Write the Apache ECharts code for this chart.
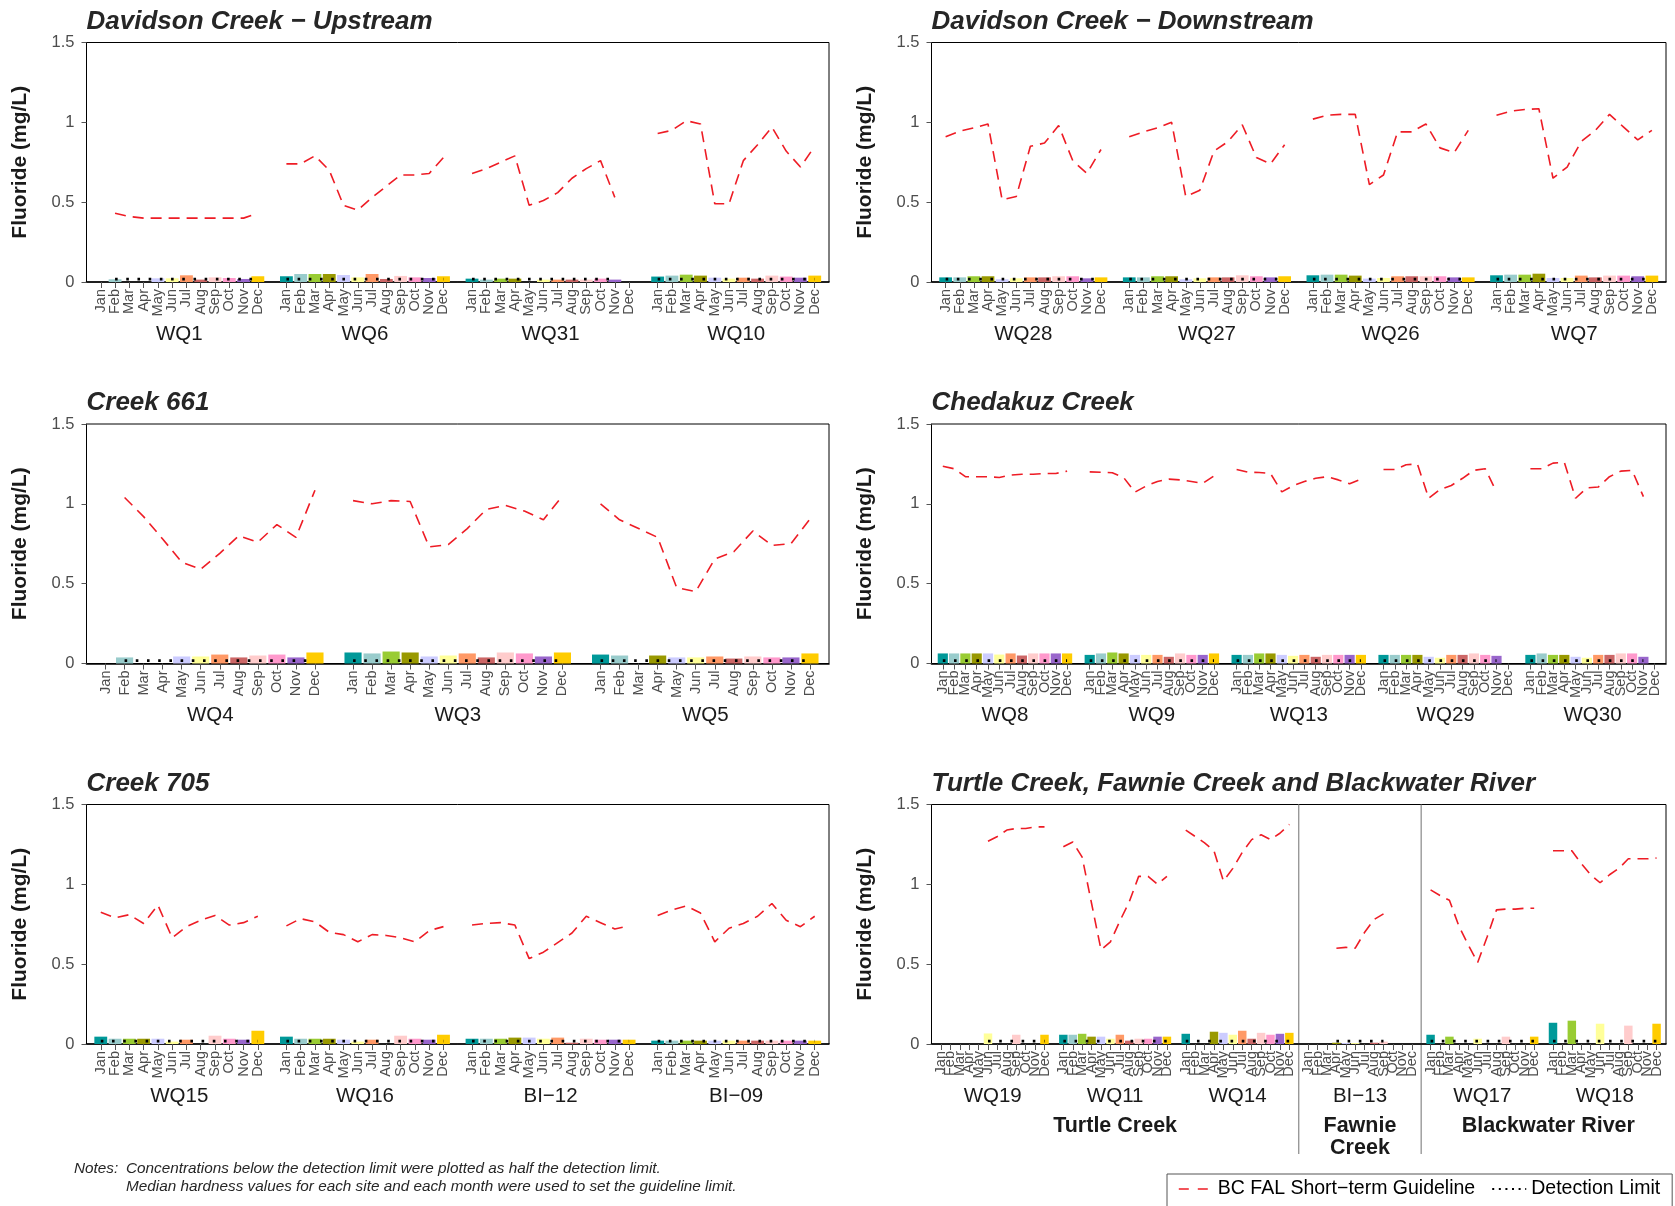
<!DOCTYPE html>
<html><head><meta charset="utf-8">
<script src="https://cdn.jsdelivr.net/npm/echarts@6/dist/echarts.min.js"></script>
<style>html,body{margin:0;padding:0;background:#fff}#c{width:1675px;height:1206px}</style>
</head><body><div id="c"></div>
<script>
// ---------------- data ----------------
const MONTHS = ['Jan','Feb','Mar','Apr','May','Jun','Jul','Aug','Sep','Oct','Nov','Dec'];
const DETECTION_LIMIT = 0.018;

// Davidson Creek - Upstream
const fl_WQ1  = [null, 0.017, null, null, 0.023, 0.023, 0.042, 0.015, 0.029, 0.025, 0.019, 0.036];
const gl_WQ1  = [null, 0.43, 0.41, 0.40, 0.40, 0.40, 0.40, 0.40, 0.40, 0.40, 0.40, 0.43];
const fl_WQ6  = [0.036, 0.05, 0.05, 0.05, 0.044, 0.029, 0.05, 0.019, 0.038, 0.029, 0.025, 0.036];
const gl_WQ6  = [0.74, 0.74, 0.79, 0.70, 0.48, 0.45, 0.53, 0.60, 0.67, 0.67, 0.68, 0.78];
const fl_WQ31 = [0.021, 0.015, 0.021, 0.021, null, 0.015, 0.015, 0.015, 0.015, 0.021, 0.015, null];
const gl_WQ31 = [0.68, 0.71, 0.75, 0.79, 0.48, 0.51, 0.56, 0.65, 0.71, 0.76, 0.53, null];
const fl_WQ10 = [0.034, 0.04, 0.046, 0.04, 0.027, 0.021, 0.027, 0.021, 0.04, 0.034, 0.027, 0.04];
const gl_WQ10 = [0.93, 0.95, 1.01, 0.99, 0.49, 0.49, 0.76, 0.86, 0.97, 0.82, 0.72, 0.85];
// Davidson Creek - Downstream
const fl_WQ28 = [0.029, 0.029, 0.036, 0.036, 0.017, 0.023, 0.029, 0.029, 0.036, 0.036, 0.023, 0.029];
const gl_WQ28 = [0.91, 0.945, 0.965, 0.99, 0.515, 0.535, 0.85, 0.87, 0.98, 0.76, 0.68, 0.83];
const fl_WQ27 = [0.029, 0.029, 0.036, 0.036, 0.017, 0.023, 0.029, 0.029, 0.042, 0.036, 0.029, 0.036];
const gl_WQ27 = [0.91, 0.94, 0.965, 1.0, 0.535, 0.575, 0.82, 0.88, 0.985, 0.78, 0.74, 0.86];
const fl_WQ26 = [0.042, 0.046, 0.046, 0.04, 0.021, 0.025, 0.036, 0.036, 0.036, 0.036, 0.029, 0.029];
const gl_WQ26 = [1.02, 1.045, 1.05, 1.05, 0.61, 0.67, 0.94, 0.94, 0.99, 0.84, 0.81, 0.95];
const fl_WQ7  = [0.042, 0.046, 0.046, 0.052, 0.025, 0.025, 0.04, 0.029, 0.04, 0.04, 0.036, 0.04];
const gl_WQ7  = [1.045, 1.07, 1.08, 1.085, 0.65, 0.72, 0.88, 0.95, 1.05, 0.97, 0.89, 0.95];
// Creek 661
const fl_WQ4 = [null, 0.038, null, null, 0.044, 0.044, 0.056, 0.038, 0.05, 0.056, 0.038, 0.069];
const gl_WQ4 = [null, 1.04, 0.92, 0.78, 0.635, 0.59, 0.69, 0.80, 0.76, 0.87, 0.79, 1.085];
const fl_WQ3 = [0.069, 0.063, 0.075, 0.069, 0.044, 0.05, 0.063, 0.038, 0.069, 0.063, 0.044, 0.069];
const gl_WQ3 = [1.02, 1.0, 1.02, 1.015, 0.73, 0.745, 0.845, 0.965, 0.99, 0.955, 0.90, 1.05];
const fl_WQ5 = [0.056, 0.05, null, 0.05, 0.038, 0.038, 0.044, 0.031, 0.044, 0.038, 0.038, 0.063];
const gl_WQ5 = [1.0, 0.90, 0.845, 0.79, 0.475, 0.45, 0.655, 0.70, 0.83, 0.74, 0.75, 0.905];
// Chedakuz Creek
const fl_WQ8  = [0.063, 0.063, 0.063, 0.063, 0.063, 0.056, 0.063, 0.05, 0.063, 0.063, 0.063, 0.063];
const gl_WQ8  = [1.235, 1.22, 1.17, 1.17, 1.17, 1.165, 1.18, 1.185, 1.185, 1.19, 1.19, 1.205];
const fl_WQ9  = [0.054, 0.063, 0.069, 0.063, 0.054, 0.054, 0.054, 0.042, 0.063, 0.054, 0.054, 0.063];
const gl_WQ9  = [1.20, 1.198, 1.195, 1.165, 1.073, 1.112, 1.14, 1.155, 1.15, 1.14, 1.128, 1.175];
const fl_WQ13 = [0.054, 0.054, 0.063, 0.063, 0.054, 0.048, 0.054, 0.042, 0.054, 0.054, 0.054, 0.054];
const gl_WQ13 = [1.215, 1.198, 1.196, 1.19, 1.075, 1.114, 1.14, 1.16, 1.17, 1.15, 1.126, 1.155];
const fl_WQ29 = [0.054, 0.054, 0.054, 0.054, 0.042, 0.036, 0.054, 0.054, 0.063, 0.054, 0.048, null];
const gl_WQ29 = [1.215, 1.215, 1.245, 1.25, 1.035, 1.09, 1.115, 1.16, 1.21, 1.22, 1.075, null];
const fl_WQ30 = [0.054, 0.063, 0.054, 0.054, 0.042, 0.036, 0.054, 0.054, 0.063, 0.063, 0.042, null];
const gl_WQ30 = [1.22, 1.22, 1.255, 1.26, 1.035, 1.10, 1.105, 1.17, 1.205, 1.21, 1.045, null];
// Creek 705
const fl_WQ15 = [0.046, 0.033, 0.033, 0.033, 0.033, 0.015, 0.027, null, 0.052, 0.033, 0.027, 0.083];
const gl_WQ15 = [0.825, 0.79, 0.81, 0.755, 0.87, 0.665, 0.735, 0.775, 0.805, 0.745, 0.76, 0.80];
const fl_WQ16 = [0.046, 0.033, 0.033, 0.033, 0.027, 0.015, 0.027, null, 0.052, 0.033, 0.027, 0.058];
const gl_WQ16 = [0.74, 0.785, 0.765, 0.70, 0.685, 0.64, 0.685, 0.68, 0.665, 0.64, 0.71, 0.735];
const fl_BI12 = [0.033, 0.033, 0.033, 0.04, 0.04, 0.033, 0.04, 0.008, 0.033, 0.027, 0.027, 0.027];
const gl_BI12 = [0.745, 0.755, 0.76, 0.745, 0.535, 0.575, 0.635, 0.695, 0.80, 0.76, 0.72, 0.74];
const fl_BI09 = [0.021, 0.021, 0.021, 0.021, 0.021, 0.021, 0.021, 0.021, 0.021, 0.021, 0.021, 0.021];
const gl_BI09 = [0.805, 0.84, 0.865, 0.82, 0.64, 0.725, 0.755, 0.80, 0.88, 0.775, 0.735, 0.80];
// Turtle Creek, Fawnie Creek and Blackwater River
const fl_WQ19 = [null, null, null, null, null, 0.066, null, null, 0.058, null, null, 0.058];
const gl_WQ19 = [null, null, null, null, null, 1.27, 1.30, 1.34, 1.35, 1.35, 1.36, 1.36];
const fl_WQ11 = [0.058, 0.058, 0.064, 0.046, 0.046, 0.033, 0.058, 0.021, 0.033, 0.033, 0.046, 0.046];
const gl_WQ11 = [1.235, 1.265, 1.17, 0.88, 0.59, 0.64, 0.77, 0.89, 1.05, 1.05, 1.0, 1.05];
const fl_WQ14 = [0.064, null, null, 0.077, 0.07, 0.058, 0.083, 0.033, 0.07, 0.058, 0.064, 0.07];
const gl_WQ14 = [1.34, 1.30, 1.26, 1.21, 1.02, 1.10, 1.20, 1.28, 1.31, 1.28, 1.32, 1.375];
const fl_BI13 = [null, null, null, 0.008, 0.006, 0.006, null, 0.008, 0.015, null, null, null];
const gl_BI13 = [null, null, null, 0.60, 0.605, 0.60, 0.70, 0.78, 0.815, null, null, null];
const fl_WQ17 = [0.058, null, 0.046, null, null, 0.033, null, null, 0.046, null, null, 0.046];
const gl_WQ17 = [0.965, 0.93, 0.90, 0.74, 0.62, 0.51, 0.67, 0.84, 0.845, 0.845, 0.85, 0.85];
const fl_WQ18 = [0.133, null, 0.146, null, null, 0.127, null, null, 0.115, null, null, 0.127];
const gl_WQ18 = [1.21, 1.21, 1.21, 1.13, 1.06, 1.01, 1.06, 1.10, 1.16, 1.16, 1.16, 1.165];

const PANEL_TITLES = ['Davidson Creek − Upstream', 'Davidson Creek − Downstream', 'Creek 661',
                      'Chedakuz Creek', 'Creek 705', 'Turtle Creek, Fawnie Creek and Blackwater River'];
const PANEL_SITES = [['WQ1','WQ6','WQ31','WQ10'], ['WQ28','WQ27','WQ26','WQ7'], ['WQ4','WQ3','WQ5'],
                     ['WQ8','WQ9','WQ13','WQ29','WQ30'], ['WQ15','WQ16','BI−12','BI−09'],
                     ['WQ19','WQ11','WQ14','BI−13','WQ17','WQ18']];
const SITE_FLUORIDE = {WQ1:fl_WQ1, WQ6:fl_WQ6, WQ31:fl_WQ31, WQ10:fl_WQ10, WQ28:fl_WQ28, WQ27:fl_WQ27,
  WQ26:fl_WQ26, WQ7:fl_WQ7, WQ4:fl_WQ4, WQ3:fl_WQ3, WQ5:fl_WQ5, WQ8:fl_WQ8, WQ9:fl_WQ9, WQ13:fl_WQ13,
  WQ29:fl_WQ29, WQ30:fl_WQ30, WQ15:fl_WQ15, WQ16:fl_WQ16, 'BI−12':fl_BI12, 'BI−09':fl_BI09,
  WQ19:fl_WQ19, WQ11:fl_WQ11, WQ14:fl_WQ14, 'BI−13':fl_BI13, WQ17:fl_WQ17, WQ18:fl_WQ18};
const SITE_GUIDELINE = {WQ1:gl_WQ1, WQ6:gl_WQ6, WQ31:gl_WQ31, WQ10:gl_WQ10, WQ28:gl_WQ28, WQ27:gl_WQ27,
  WQ26:gl_WQ26, WQ7:gl_WQ7, WQ4:gl_WQ4, WQ3:gl_WQ3, WQ5:gl_WQ5, WQ8:gl_WQ8, WQ9:gl_WQ9, WQ13:gl_WQ13,
  WQ29:gl_WQ29, WQ30:gl_WQ30, WQ15:gl_WQ15, WQ16:gl_WQ16, 'BI−12':gl_BI12, 'BI−09':gl_BI09,
  WQ19:gl_WQ19, WQ11:gl_WQ11, WQ14:gl_WQ14, 'BI−13':gl_BI13, WQ17:gl_WQ17, WQ18:gl_WQ18};
// group label: [text, first category, last category] along the last panel's axis
const GROUPS_LAST_PANEL = [['Turtle Creek', 'WQ19|Jan', 'WQ14|Dec'], ['Fawnie\nCreek', 'BI−13|Jan', 'BI−13|Dec'],
                           ['Blackwater River', 'WQ17|Jan', 'pad-end']];
const GUIDELINE_NAME = 'BC FAL Short−term Guideline';
const DL_NAME = 'Detection Limit';
const NOTES = ['Concentrations below the detection limit were plotted as half the detection limit.',
               'Median hardness values for each site and each month were used to set the guideline limit.'];

// ---------------- styles / layout ----------------
const MONTH_COLORS = ['#009999','#99CCCC','#99CC33','#999900','#CCCCFF','#FFFF99',
                      '#FF9966','#CC6666','#FFCCCC','#FF99CC','#9966CC','#FFCC00'];
const FONT = 'Liberation Sans, Arial, Helvetica, sans-serif';
const NOTE_FONT = 'italic 15.3px Liberation Sans Narrow, Arial Narrow, Liberation Sans, sans-serif';
const COL_LEFT = [86.5, 931.5], COL_WIDTH = [742.5, 734.5];
const ROW_TOP = [42.5, 424, 804.5], ROW_HEIGHT = 239.5;

function dlSpan(vals) {
  let first = -1, last = -1;
  vals.forEach((v, i) => { if (v != null) { if (first < 0) first = i; last = i; } });
  return vals.map((v, i) => (first >= 0 && i >= first && i <= last) ? DETECTION_LIMIT : null);
}

const grids = [], xAxes = [], yAxes = [], series = [], titles = [], panelCats = [];
PANEL_SITES.forEach((sites, p) => {
  const col = p % 2, row = Math.floor(p / 2);
  const cats = ['pad-start'], bars = [null], gl = [null], dl = [null], mon = [-1];
  sites.forEach((s, k) => {
    if (k > 0) { cats.push('gap-' + k); bars.push(null); gl.push(null); dl.push(null); mon.push(-1); }
    const dls = dlSpan(SITE_FLUORIDE[s]);
    MONTHS.forEach((m, i) => {
      cats.push(s + '|' + m); bars.push(SITE_FLUORIDE[s][i]); gl.push(SITE_GUIDELINE[s][i]);
      dl.push(dls[i]); mon.push(i);
    });
  });
  cats.push('pad-end'); bars.push(null); gl.push(null); dl.push(null); mon.push(-1);
  panelCats.push(cats);

  grids.push({left: COL_LEFT[col], top: ROW_TOP[row], width: COL_WIDTH[col], height: ROW_HEIGHT,
    show: true, borderColor: '#000', borderWidth: 1, backgroundColor: 'transparent'});
  titles.push({text: PANEL_TITLES[p], left: COL_LEFT[col], top: ROW_TOP[row] - 34, padding: 0,
    textStyle: {fontFamily: FONT, fontSize: 26, fontWeight: 'bold', fontStyle: 'italic', color: '#262626'}});
  xAxes.push({type: 'category', gridIndex: p, data: cats, boundaryGap: false,
    axisLine: {show: true, onZero: false, lineStyle: {color: '#000', width: 1.6}},
    axisTick: {show: true, length: 6, interval: (i, v) => v.indexOf('|') >= 0, lineStyle: {color: '#555', width: 1}},
    axisLabel: {interval: 0, rotate: 90, margin: 7, fontSize: 14.5, color: '#4d4d4d', fontFamily: FONT,
      formatter: v => (v.indexOf('|') >= 0 ? v.split('|')[1] : '')},
    splitLine: {show: false}});
  yAxes.push({type: 'value', gridIndex: p, min: 0, max: 1.5, interval: 0.5,
    axisLine: {show: true, lineStyle: {color: '#000', width: 1}},
    axisTick: {show: true, length: 5, lineStyle: {color: '#555'}},
    axisLabel: {fontSize: 16.5, color: '#4d4d4d', margin: 12, fontFamily: FONT},
    splitLine: {show: false},
    name: 'Fluoride (mg/L)', nameLocation: 'middle', nameGap: 56,
    nameTextStyle: {fontFamily: FONT, fontSize: 21, fontWeight: 'bold', color: '#1a1a1a'}});
  series.push({type: 'bar', name: 'Fluoride', xAxisIndex: p, yAxisIndex: p, data: bars,
    barCategoryGap: '10%', silent: true, z: 2,
    itemStyle: {color: prm => MONTH_COLORS[mon[prm.dataIndex]]}});
  series.push({type: 'line', name: DL_NAME, xAxisIndex: p, yAxisIndex: p, data: dl,
    symbol: 'none', connectNulls: false, silent: true, z: 3,
    itemStyle: {color: '#000'},
    lineStyle: {color: '#000', width: 2.6, type: [2.6, 8.6]}});
  series.push({type: 'line', name: GUIDELINE_NAME, xAxisIndex: p, yAxisIndex: p, data: gl,
    symbol: 'none', connectNulls: false, silent: true, z: 4,
    itemStyle: {color: '#EE1C25'},
    lineStyle: {color: '#EE1C25', width: 1.6, type: [11, 7]}});
});

const chart = echarts.init(document.getElementById('c'), null, {renderer: 'canvas'});
chart.setOption({
  animation: false,
  backgroundColor: '#fff',
  title: titles,
  grid: grids, xAxis: xAxes, yAxis: yAxes, series: series,
  legend: {data: [{name: GUIDELINE_NAME, lineStyle: {type: [10, 9], width: 1.6}},
                  {name: DL_NAME, lineStyle: {type: [2, 4.6], width: 2}}],
    left: 1167, top: 1174, itemWidth: 34, itemHeight: 14,
    itemGap: 16, padding: [5, 12, 16, 11], borderColor: '#555', borderWidth: 1, borderRadius: 0,
    itemStyle: {opacity: 0},
    selectedMode: false, textStyle: {fontFamily: FONT, fontSize: 19.5, color: '#000'}}
});

// ---------- labels placed through the axes' own scales ----------
const gfx = [];
function px(p, cat) { return chart.convertToPixel({xAxisIndex: p}, cat); }
PANEL_SITES.forEach((sites, p) => {
  const row = Math.floor(p / 2);
  const yBase = ROW_TOP[row] + ROW_HEIGHT;
  sites.forEach(s => {
    const x = (px(p, s + '|Jan') + px(p, s + '|Dec')) / 2;
    gfx.push({type: 'text', x: x, y: yBase + 52, silent: true,
      style: {text: s, fill: '#1a1a1a', font: '20.5px ' + FONT, align: 'center', verticalAlign: 'middle'}});
  });
});
// group labels and separators in the last panel
(function () {
  const p = 5, cats = panelCats[p];
  const yBase = ROW_TOP[2] + ROW_HEIGHT;
  GROUPS_LAST_PANEL.forEach(([name, a, b]) => {
    const x = (px(p, a) + px(p, b)) / 2;
    gfx.push({type: 'text', x: x, y: yBase + 71, silent: true,
      style: {text: name, fill: '#1a1a1a', font: 'bold 21.5px ' + FONT, align: 'center', verticalAlign: 'top',
        lineHeight: 22}});
  });
  cats.forEach(c => {
    if (c.indexOf('gap-') === 0) {
      const k = +c.split('-')[1];
      if (k === 3 || k === 4) {
        const x = px(p, c);
        gfx.push({type: 'line', silent: true, shape: {x1: x, y1: ROW_TOP[2], x2: x, y2: yBase + 110},
          style: {stroke: '#888', lineWidth: 1.2}});
      }
    }
  });
})();
// notes
gfx.push({type: 'text', left: 74, top: 1161, silent: true,
  style: {text: 'Notes:', fill: '#262626', font: NOTE_FONT}});
NOTES.forEach((t, i) => gfx.push({type: 'text', left: 126, top: 1161 + i * 18.5, silent: true,
  style: {text: t, fill: '#262626', font: NOTE_FONT}}));
chart.setOption({graphic: gfx});
</script></body></html>
